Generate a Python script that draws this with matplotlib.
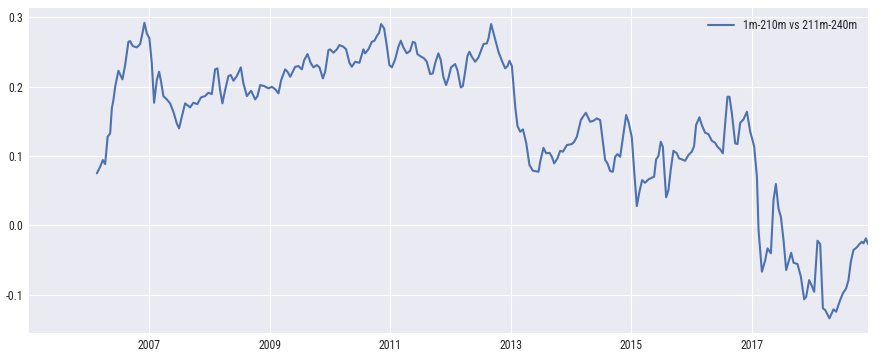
import numpy as np
import pandas as pd
import matplotlib
matplotlib.use("Agg")
import matplotlib.pyplot as plt
from matplotlib import font_manager
import seaborn as sns

series_label = "1m-210m vs 211m-240m"

dec_year = [
    2006.127, 2006.182, 2006.226, 2006.265, 2006.306, 2006.348, 2006.376, 2006.402, 2006.431, 2006.485,
    2006.552, 2006.597, 2006.651, 2006.680, 2006.724, 2006.791, 2006.846, 2006.884, 2006.917, 2006.957,
    2007.000, 2007.040, 2007.078, 2007.123, 2007.161, 2007.194, 2007.232, 2007.289, 2007.344, 2007.398,
    2007.455, 2007.493, 2007.538, 2007.593, 2007.676, 2007.730, 2007.797, 2007.858, 2007.925,
    2007.979, 2008.036, 2008.091, 2008.129, 2008.174, 2008.212, 2008.257, 2008.311, 2008.351, 2008.394,
    2008.451, 2008.517, 2008.560, 2008.617, 2008.688, 2008.755, 2008.793, 2008.838, 2008.904, 2008.975,
    2009.032, 2009.087, 2009.141, 2009.186, 2009.252, 2009.291, 2009.336, 2009.419, 2009.473, 2009.530,
    2009.568, 2009.623, 2009.679, 2009.722,
    2009.779, 2009.822, 2009.879, 2009.917, 2009.971, 2010.000, 2010.054, 2010.111, 2010.154, 2010.220,
    2010.265, 2010.320, 2010.360, 2010.415, 2010.486, 2010.552, 2010.581, 2010.635, 2010.692, 2010.735,
    2010.775, 2010.813, 2010.846, 2010.896, 2010.941, 2010.984, 2011.024, 2011.079, 2011.133, 2011.173,
    2011.216, 2011.273, 2011.328, 2011.373, 2011.411, 2011.449, 2011.494,
    2011.560, 2011.605, 2011.660, 2011.705, 2011.743, 2011.797, 2011.837, 2011.880, 2011.925, 2011.963,
    2012.008, 2012.075, 2012.113, 2012.169, 2012.203, 2012.241, 2012.279, 2012.312, 2012.352, 2012.407,
    2012.462, 2012.545, 2012.601, 2012.628, 2012.672, 2012.710, 2012.755, 2012.793, 2012.850, 2012.905,
    2012.943, 2012.976, 2013.016, 2013.071, 2013.109, 2013.154, 2013.199, 2013.253, 2013.308, 2013.364,
    2013.458, 2013.486, 2013.540, 2013.585, 2013.640, 2013.680, 2013.718, 2013.773, 2013.818, 2013.863,
    2013.929, 2014.012, 2014.050, 2014.095, 2014.161, 2014.205, 2014.244, 2014.316, 2014.371, 2014.427,
    2014.482, 2014.527, 2014.565, 2014.603, 2014.648, 2014.693, 2014.731, 2014.769, 2014.814, 2014.859,
    2014.914, 2014.952, 2015.008, 2015.046, 2015.091, 2015.134, 2015.179, 2015.229,
    2015.283, 2015.340, 2015.378, 2015.411, 2015.450, 2015.489, 2015.523, 2015.544, 2015.578, 2015.616,
    2015.655, 2015.699, 2015.755, 2015.793, 2015.838, 2015.893, 2015.948, 2016.004, 2016.042, 2016.075,
    2016.130, 2016.170, 2016.225, 2016.279, 2016.336, 2016.390, 2016.429, 2016.474, 2016.518, 2016.557,
    2016.595, 2016.628, 2016.668, 2016.723, 2016.761, 2016.806, 2016.861, 2016.917, 2016.972, 2017.010,
    2017.038, 2017.083, 2017.110, 2017.166, 2017.221, 2017.259, 2017.315, 2017.359, 2017.398, 2017.441,
    2017.481, 2017.525, 2017.569, 2017.608, 2017.652, 2017.691, 2017.757, 2017.813, 2017.868, 2017.901,
    2017.951, 2017.996, 2018.034, 2018.089, 2018.134, 2018.179, 2018.217, 2018.288, 2018.355, 2018.399,
    2018.466, 2018.511, 2018.565, 2018.604, 2018.643, 2018.687, 2018.743, 2018.786, 2018.825, 2018.853,
    2018.892, 2018.930,
]

values = [
    0.0750, 0.0845, 0.0942, 0.0884, 0.1278, 0.1327, 0.1688, 0.1807, 0.1999, 0.2230,
    0.2106, 0.2312, 0.2648, 0.2658, 0.2586, 0.2567, 0.2615, 0.2769, 0.2922, 0.2769,
    0.2697, 0.2337, 0.1768, 0.2096, 0.2216, 0.2071, 0.1865, 0.1817, 0.1760, 0.1639,
    0.1471, 0.1399, 0.1566, 0.1760, 0.1702, 0.1768, 0.1750, 0.1846, 0.1865,
    0.1913, 0.1894, 0.2250, 0.2265, 0.1952, 0.1760, 0.1952, 0.2153, 0.2168, 0.2086,
    0.2153, 0.2279, 0.2048, 0.1865, 0.1941, 0.1817, 0.1865, 0.2024, 0.2009, 0.1976,
    0.1999, 0.1962, 0.1904, 0.2096, 0.2250, 0.2216, 0.2143, 0.2288, 0.2298, 0.2250,
    0.2384, 0.2471, 0.2337, 0.2279,
    0.2312, 0.2279, 0.2120, 0.2216, 0.2528, 0.2539, 0.2490, 0.2539, 0.2601, 0.2576,
    0.2539, 0.2345, 0.2288, 0.2360, 0.2345, 0.2539, 0.2481, 0.2539, 0.2648, 0.2663,
    0.2730, 0.2778, 0.2904, 0.2841, 0.2586, 0.2312, 0.2279, 0.2394, 0.2576, 0.2663,
    0.2567, 0.2481, 0.2518, 0.2648, 0.2634, 0.2471, 0.2442,
    0.2409, 0.2360, 0.2182, 0.2192, 0.2337, 0.2481, 0.2384, 0.2143, 0.2024, 0.2120,
    0.2279, 0.2327, 0.2240, 0.1990, 0.2009, 0.2216, 0.2442, 0.2504, 0.2432, 0.2360,
    0.2423, 0.2615, 0.2625, 0.2697, 0.2904, 0.2778, 0.2634, 0.2504, 0.2374, 0.2265,
    0.2298, 0.2374, 0.2298, 0.1711, 0.1432, 0.1350, 0.1385, 0.1191, 0.0870, 0.0788,
    0.0773, 0.0917, 0.1119, 0.1039, 0.1047, 0.0989, 0.0894, 0.0966, 0.1076, 0.1062,
    0.1158, 0.1173, 0.1206, 0.1278, 0.1519, 0.1577, 0.1624, 0.1494, 0.1509, 0.1543,
    0.1519, 0.1206, 0.0942, 0.0894, 0.0783, 0.0773, 0.0989, 0.1028, 0.0989, 0.1255,
    0.1591, 0.1494, 0.1269, 0.0798, 0.0278, 0.0485, 0.0653, 0.0614,
    0.0663, 0.0687, 0.0701, 0.0952, 0.1000, 0.1206, 0.1134, 0.0845, 0.0404, 0.0509,
    0.0808, 0.1076, 0.1039, 0.0966, 0.0952, 0.0932, 0.1014, 0.1062, 0.1144, 0.1447,
    0.1558, 0.1447, 0.1336, 0.1317, 0.1220, 0.1191, 0.1134, 0.1096, 0.1039, 0.1471,
    0.1855, 0.1855, 0.1615, 0.1183, 0.1173, 0.1480, 0.1529, 0.1639, 0.1350, 0.1230,
    0.1134, 0.0701, -0.0068, -0.0669, -0.0500, -0.0332, -0.0404, 0.0365, 0.0596, 0.0245,
    0.0124, -0.0212, -0.0645, -0.0525, -0.0395, -0.0539, -0.0558, -0.0741, -0.1067, -0.1030,
    -0.0789, -0.0876, -0.0958, -0.0222, -0.0270, -0.1197, -0.1222, -0.1341, -0.1212, -0.1246,
    -0.1077, -0.0981, -0.0909, -0.0789, -0.0525, -0.0356, -0.0317, -0.0270, -0.0237, -0.0260,
    -0.0188, -0.0270,
]

ytick_vals = [-0.1, 0.0, 0.1, 0.2, 0.3]
xtick_years = [2007, 2009, 2011, 2013, 2015, 2017]
x_start = "2005-01-01"


def dec_to_date(y):
    yr = int(np.floor(y))
    start = pd.Timestamp(year=yr, month=1, day=1)
    end = pd.Timestamp(year=yr + 1, month=1, day=1)
    return start + (end - start) * (y - yr)


dates = [dec_to_date(y) for y in dec_year]
s = pd.Series(values, index=pd.DatetimeIndex(dates))

sns.set_style("darkgrid")

available = {f.name for f in font_manager.fontManager.ttflist}
narrow_candidates = ["Liberation Sans Narrow", "DejaVu Sans Condensed", "Roboto Condensed",
                     "Open Sans Condensed", "Roboto"]
chosen = [n for n in narrow_candidates if n in available]
families = (chosen[:1] if chosen else []) + ["DejaVu Sans"]
narrow_ok = bool(chosen) and chosen[0] != "Roboto"
plt.rcParams["font.family"] = families
plt.rcParams["axes.unicode_minus"] = False
fsize = 8.5 if narrow_ok else 7.8

fig = plt.figure(figsize=(8.87, 3.6), dpi=100)
ax = fig.add_axes([0.0327, 0.074, 0.946, 0.9035])
ax.plot(s.index, s.values, color="#4C72B0", lw=1.5, label=series_label)

ax.set_xlim(pd.Timestamp(x_start), s.index[-1])
ax.set_ylim(-0.1558, 0.3134)
ax.set_yticks(ytick_vals)
ax.set_yticklabels([f"{v:.1f}" for v in ytick_vals])
ax.set_xticks([pd.Timestamp(year=y, month=1, day=1) for y in xtick_years])
ax.set_xticklabels([str(y) for y in xtick_years])
ax.tick_params(axis="both", labelsize=fsize, colors="#262626", pad=4, length=0)
for sp in ax.spines.values():
    sp.set_visible(False)

leg = ax.legend(loc="upper right", frameon=False, fontsize=fsize, handlelength=2.2)

fig.savefig("out.png", dpi=100)
